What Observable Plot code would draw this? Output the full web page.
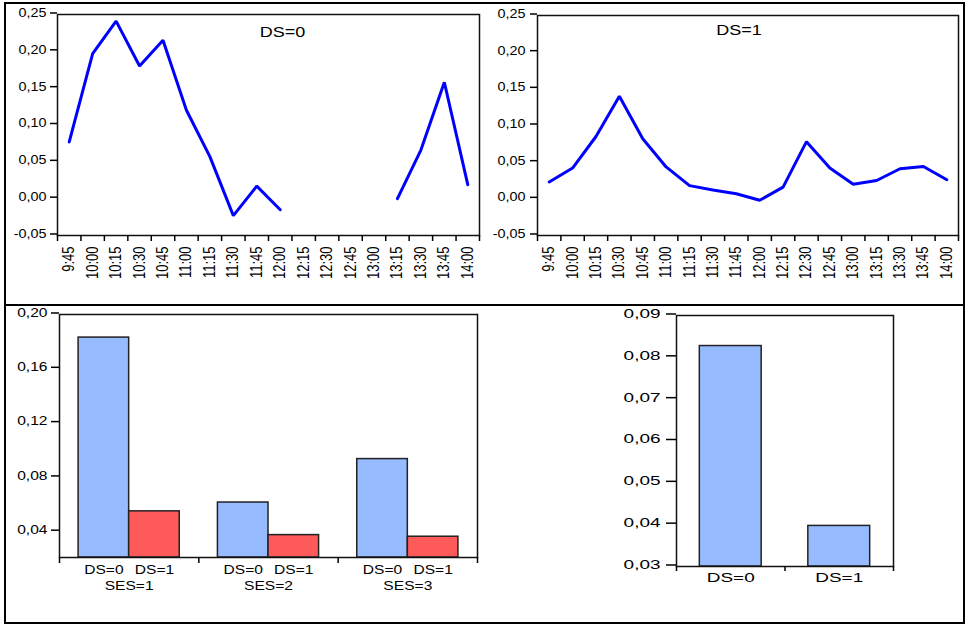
<!DOCTYPE html>
<html><head><meta charset="utf-8">
<script src="https://cdn.jsdelivr.net/npm/d3@7"></script>
<script src="https://cdn.jsdelivr.net/npm/@observablehq/plot@0.6"></script>
<style>
html,body{margin:0;padding:0;background:#fff;}
#wrap{position:relative;width:966px;height:624px;overflow:hidden;background:#fff;font-family:"Liberation Sans",Arial,sans-serif;}
.panel{position:absolute;}
.panel svg{display:block;overflow:visible;}
#outer{position:absolute;left:4px;top:2px;width:961px;height:622px;border:2px solid #000;box-sizing:border-box;}
#divider{position:absolute;left:4px;top:304px;width:961px;height:2px;background:#000;}
</style></head>
<body>
<div id="wrap">
  <div class="panel" id="p1" style="left:0;top:0"></div>
  <div class="panel" id="p2" style="left:485px;top:0"></div>
  <div class="panel" id="p3" style="left:0;top:306px"></div>
  <div class="panel" id="p4" style="left:600px;top:306px"></div>
  <div id="outer"></div>
  <div id="divider"></div>
</div>
<script>
// ---------- data ----------
const times = ["9:45","10:00","10:15","10:30","10:45","11:00","11:15","11:30","11:45","12:00","12:15","12:30","12:45","13:00","13:15","13:30","13:45","14:00"];
const ds0Series = [0.077, 0.197, 0.241, 0.180, 0.215, 0.120, 0.057, -0.023, 0.017, -0.015, null, null, null, null, 0.000, 0.066, 0.158, 0.019];
const ds1Series = [0.023, 0.042, 0.085, 0.140, 0.082, 0.0435, 0.018, 0.012, 0.007, -0.002, 0.016, 0.078, 0.042, 0.020, 0.025, 0.041, 0.044, 0.026];
const lineYTicks = [-0.05, 0.00, 0.05, 0.10, 0.15, 0.20, 0.25];

const sesGroups = ["SES=1", "SES=2", "SES=3"];
const dsLabels = ["DS=0", "DS=1"];
const sesDs0 = [0.183, 0.0615, 0.0935];
const sesDs1 = [0.055, 0.0375, 0.0363];
const sesYTicks = [0.04, 0.08, 0.12, 0.16, 0.20];
const sesYDomain = [0.021, 0.20];

const totalDs = [0.0827, 0.0397];
const totYTicks = [0.03, 0.04, 0.05, 0.06, 0.07, 0.08, 0.09];
const totYDomain = [0.03, 0.09];

// ---------- styles ----------
const BLUE_LINE = "#0000ff";
const BAR_BLUE = "#96bbff";
const BAR_RED = "#ff5a5a";
const FONT = "'Liberation Sans', Arial, sans-serif";
const fmt = d => d.toFixed(2).replace(".", ",");

function stretchText(svg, sx) {
  svg.querySelectorAll("text").forEach(t => {
    const tr = t.getAttribute("transform");
    if (tr && tr.includes("rotate")) {
      t.setAttribute("transform", tr + ` scale(1,${sx})`);
      return;
    }
    if (tr) t.setAttribute("transform", tr + ` scale(${sx},1)`);
    else {
      const x = t.getAttribute("x") || 0, y = t.getAttribute("y") || 0;
      t.removeAttribute("x"); t.removeAttribute("y");
      t.setAttribute("transform", `translate(${x},${y}) scale(${sx},1)`);
    }
  });
}

function linePanel(values, title, opts) {
  const data = values.map((v, i) => ({i, v}));
  const bounds = d3.range(times.length + 1);
  const centers = times.map((t, i) => i + 0.5);
  const svg = Plot.plot({
    width: opts.width, height: 300,
    marginLeft: opts.ml, marginRight: opts.mr, marginTop: opts.mt, marginBottom: 65,
    style: {background: "transparent", fontFamily: FONT, fontSize: "12px", color: "#000"},
    x: {domain: [0, times.length]},
    y: {domain: [-0.05, 0.25]},
    marks: [
      Plot.line(data, {x: d => d.i + 0.5, y: d => d.v, stroke: BLUE_LINE, strokeWidth: 3, strokeLinejoin: "miter"}),
      Plot.frame({stroke: "#111", strokeWidth: 1.5}),
      Plot.axisY(lineYTicks, {tickFormat: fmt, tickSize: 7, tickPadding: opts.tp, dy: -1.5, strokeWidth: 1.5, label: null, fontSize: 12}),
      Plot.axisX(bounds, {tickFormat: () => "", tickSize: 6, strokeWidth: 1.5, label: null}),
      Plot.axisX(centers, {tickFormat: d => times[Math.floor(d)], tickSize: 0, tickPadding: 11, tickRotate: -90, label: null, fontSize: 13}),
      Plot.text([title], {text: d => d, frameAnchor: "top", dx: opts.tdx, dy: opts.tdy, fontSize: 15, lineAnchor: "middle"})
    ]
  });
  stretchText(svg, 1.2);
  return svg;
}

document.getElementById("p1").appendChild(linePanel(ds0Series, "DS=0", {width: 490, ml: 57, mr: 11, mt: 14, tp: 4, tdx: 14, tdy: 18}));
document.getElementById("p2").appendChild(linePanel(ds1Series, "DS=1", {width: 481, ml: 52, mr: 8, mt: 15, tp: 5, tdx: -9, tdy: 15}));

// ---------- grouped bars by SES ----------
{
  const pad = 0.137, bw = 0.363;
  const bars = sesGroups.flatMap((g, gi) => [
    {gi, j: 0, v: sesDs0[gi]},
    {gi, j: 1, v: sesDs1[gi]}
  ]);
  const svg = Plot.plot({
    width: 490, height: 310,
    marginLeft: 59, marginRight: 13, marginTop: 8, marginBottom: 59,
    style: {background: "transparent", fontFamily: FONT, fontSize: "12px", color: "#000"},
    x: {domain: [0, sesGroups.length]},
    y: {domain: sesYDomain},
    marks: [
      Plot.rect(bars.filter(d => d.j === 0), {x1: d => d.gi + pad, x2: d => d.gi + pad + bw, y1: () => sesYDomain[0], y2: d => d.v, fill: BAR_BLUE, stroke: "#222", strokeWidth: 1.5}),
      Plot.rect(bars.filter(d => d.j === 1), {x1: d => d.gi + pad + bw, x2: d => d.gi + pad + 2 * bw, y1: () => sesYDomain[0], y2: d => d.v, fill: BAR_RED, stroke: "#222", strokeWidth: 1.5}),
      Plot.frame({stroke: "#111", strokeWidth: 1.5}),
      Plot.axisY(sesYTicks, {tickFormat: fmt, tickSize: 8, tickPadding: 4, dy: -1.5, strokeWidth: 1.5, label: null, fontSize: 12}),
      Plot.axisX(d3.range(sesGroups.length + 1), {tickFormat: () => "", tickSize: 6, strokeWidth: 1.5, label: null}),
      Plot.text(bars, {x: d => d.gi + pad + (d.j + 0.5) * bw, y: () => sesYDomain[0], dy: 13, text: d => dsLabels[d.j], lineAnchor: "middle", fontSize: 12}),
      Plot.text(sesGroups, {x: (d, i) => i + 0.5, y: () => sesYDomain[0], dy: 29, text: d => d, lineAnchor: "middle", fontSize: 12})
    ]
  });
  stretchText(svg, 1.3);
  document.getElementById("p3").appendChild(svg);
}

// ---------- overall bars by DS ----------
{
  const data = totalDs.map((v, i) => ({i, v}));
  const svg = Plot.plot({
    width: 340, height: 310,
    marginLeft: 76, marginRight: 47, marginTop: 9, marginBottom: 50,
    style: {background: "transparent", fontFamily: FONT, fontSize: "12px", color: "#000"},
    x: {domain: [0, dsLabels.length]},
    y: {domain: totYDomain},
    marks: [
      Plot.rect(data, {x1: d => d.i + 0.215, x2: d => d.i + 0.785, y1: () => totYDomain[0], y2: d => d.v, fill: BAR_BLUE, stroke: "#222", strokeWidth: 1.5}),
      Plot.frame({stroke: "#111", strokeWidth: 1.5}),
      Plot.axisY(totYTicks, {tickFormat: fmt, tickSize: 10, tickPadding: 6, dy: -1.5, strokeWidth: 1.5, label: null, fontSize: 12}),
      Plot.axisX(d3.range(dsLabels.length + 1), {tickFormat: () => "", tickSize: 5, strokeWidth: 1.5, label: null}),
      Plot.text(dsLabels, {x: (d, i) => i + 0.5, y: () => totYDomain[0], dy: 12, text: d => d, lineAnchor: "middle", fontSize: 12})
    ]
  });
  stretchText(svg, 1.58);
  document.getElementById("p4").appendChild(svg);
}
</script>
</body></html>
